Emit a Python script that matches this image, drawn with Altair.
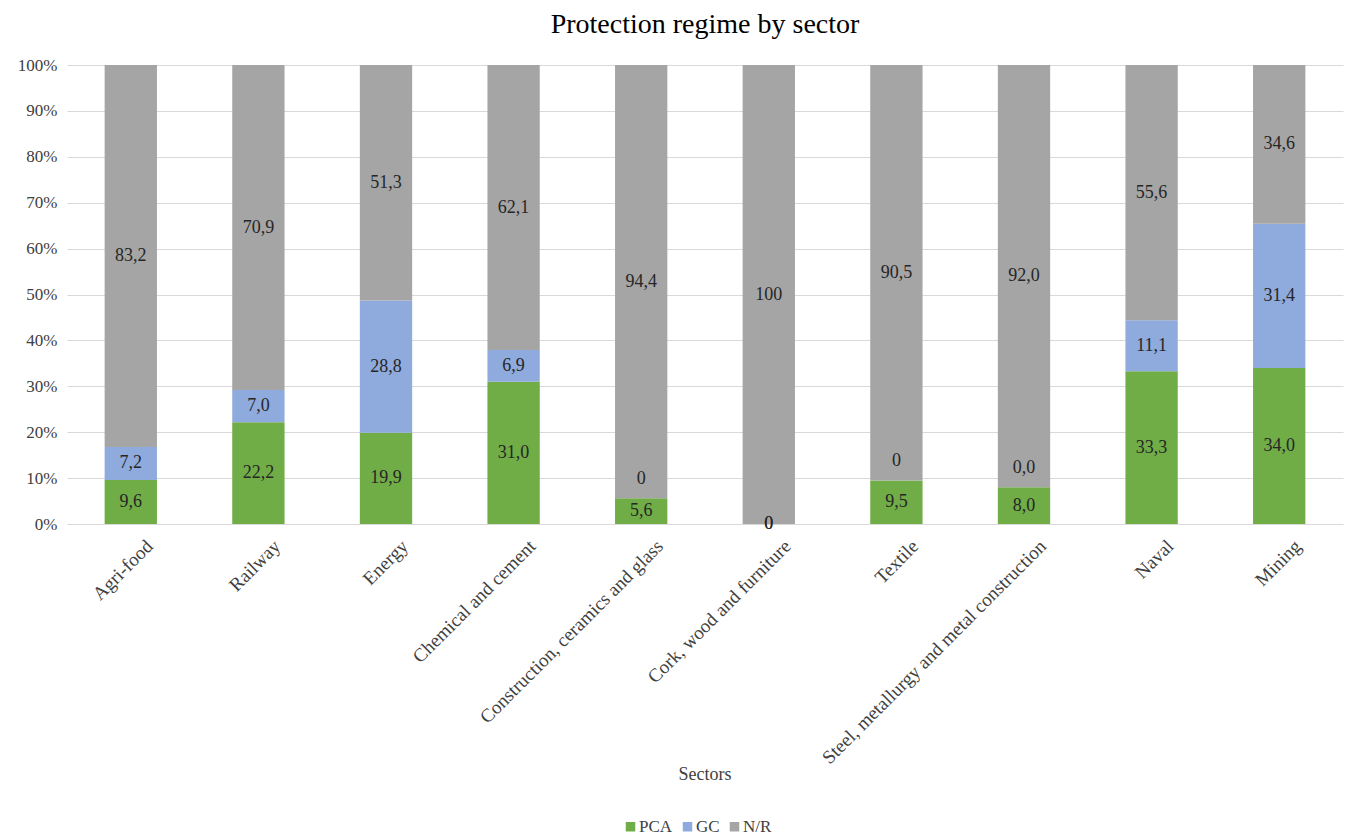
import altair as alt
import pandas as pd

sectors = ["Agri-food", "Railway", "Energy", "Chemical and cement",
           "Construction, ceramics and glass", "Cork, wood and furniture",
           "Textile", "Steel, metallurgy and metal construction", "Naval", "Mining"]
series = ["PCA", "GC", "N/R"]
pca = [9.6, 22.2, 19.9, 31.0, 5.6, 0, 9.5, 8.0, 33.3, 34.0]
gc = [7.2, 7.0, 28.8, 6.9, 0, 0, 0, 0.0, 11.1, 31.4]
nr = [83.2, 70.9, 51.3, 62.1, 94.4, 100, 90.5, 92.0, 55.6, 34.6]
pca_lbl = ["9,6", "22,2", "19,9", "31,0", "5,6", "0", "9,5", "8,0", "33,3", "34,0"]
gc_lbl = ["7,2", "7,0", "28,8", "6,9", "0", "0", "0", "0,0", "11,1", "31,4"]
nr_lbl = ["83,2", "70,9", "51,3", "62,1", "94,4", "100", "90,5", "92,0", "55,6", "34,6"]
colors = ["#70AD47", "#8FAADC", "#A5A5A5"]

rows = []
for i, s in enumerate(sectors):
    for k, (vals, lbls) in enumerate([(pca, pca_lbl), (gc, gc_lbl), (nr, nr_lbl)]):
        rows.append({"sector": s, "series": series[k], "idx": k,
                     "value": vals[i], "label": lbls[i]})
df = pd.DataFrame(rows)

FONT = "Liberation Serif"

base = alt.Chart(df).transform_stack(
    stack="value", groupby=["sector"], as_=["y0", "y1"],
    sort=[alt.SortField("idx", order="ascending")], offset="normalize"
).transform_calculate(mid="(datum.y0 + datum.y1) / 2")

x_enc = alt.X("sector:N", sort=sectors, title="Sectors",
              scale=alt.Scale(paddingInner=0.59, paddingOuter=0.295),
              axis=alt.Axis(labelAngle=-45, labelAlign="right", labelBaseline="top",
                            ticks=False, domain=False, labelColor="#404040",
                            labelFontSize=19, labelFont=FONT, labelPadding=0,
                            translate=13, labelLimit=400,
                            titleFont=FONT, titleFontSize=18, titleFontWeight="normal",
                            titleColor="#404040", titleX=625, titleY=238,
                            titleBaseline="middle"))

bars = base.mark_bar().encode(
    x=x_enc,
    y=alt.Y("y0:Q", title=None,
            scale=alt.Scale(domain=[0, 1], nice=False),
            axis=alt.Axis(format="%", values=[i / 10 for i in range(11)], domain=False,
                          ticks=False, gridColor="#d9d9d9", labelColor="#404040",
                          labelFontSize=17, labelFont=FONT, labelPadding=10)),
    y2="y1:Q",
    color=alt.Color("series:N", sort=series,
                    scale=alt.Scale(domain=series, range=colors),
                    legend=alt.Legend(title=None, orient="none", direction="horizontal",
                                      legendX=555, legendY=753, symbolType="square",
                                      symbolSize=90, symbolStrokeWidth=0,
                                      labelFont=FONT, labelFontSize=17,
                                      labelColor="#404040", columnPadding=6,
                                      symbolOffset=0, labelOffset=0)),
)

text_mid = base.transform_filter("datum.value > 0 || datum.y0 == 0").mark_text(
    font=FONT, fontSize=18, color="#262626", baseline="middle"
).encode(x=alt.X("sector:N", sort=sectors), y="mid:Q", text="label:N")

text_zero = base.transform_filter("datum.value == 0 && datum.y0 > 0").mark_text(
    font=FONT, fontSize=18, color="#262626", baseline="bottom", dy=-10
).encode(x=alt.X("sector:N", sort=sectors), y="mid:Q", text="label:N")

chart = alt.layer(bars, text_mid, text_zero).properties(
    width=1276, height=459,
    title=alt.TitleParams("Protection regime by sector", font=FONT, fontSize=28,
                          fontWeight="normal", color="#000000", offset=17, anchor="middle"),
    autosize=alt.AutoSizeParams(type="none"),
    padding={"left": 59, "top": 57, "right": 12, "bottom": 313},
).configure_view(stroke=None)

chart.save("out.html", embed_options={"renderer": "svg", "actions": False})
